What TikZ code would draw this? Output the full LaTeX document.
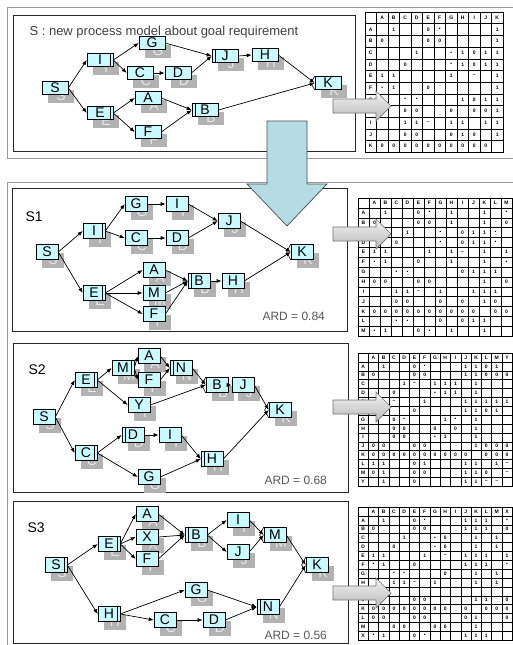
\documentclass[tikz,border=0pt]{standalone}
\usepackage{fontspec}
\setmainfont{Liberation Sans}
\setsansfont{Liberation Sans}
\usetikzlibrary{arrows.meta,calc}
\definecolor{taskcyan}{HTML}{C8FAFF}
\definecolor{shadegray}{HTML}{B2B2B2}
\definecolor{downblue}{HTML}{B5DCE2}
\definecolor{framegray}{HTML}{9A9A9A}

% adjacency matrix: name, left, top, cell width, cell height, cells per side, rows
\newcommand\adjmatrix[7]{%
  \foreach \k in {0,...,#6}{
    \draw[gridline] ({#2+\k*#4},#3) -- ({#2+\k*#4},{#3+#6*#5});
    \draw[gridline] (#2,{#3+\k*#5}) -- ({#2+#6*#4},{#3+\k*#5});
  }
  \draw[gridframe] (#2,#3) rectangle ({#2+#6*#4},{#3+#6*#5});
  \foreach \row [count=\i from 0] in {#7}{
    \foreach \cell [count=\j from 0] in \row{
      \if.\cell\else
        \node[cellmark] (#1-\i-\j) at ({#2+(\j+0.5)*#4},{#3+(\i+0.5)*#5}) {\cell};
      \fi
    }
  }%
}

\begin{document}
\begin{tikzpicture}[x=1pt,y=-1pt,
    frame/.style={draw=framegray, line width=0.9pt},
    panel/.style={draw=black!85, line width=0.8pt, fill=white},
    tasksize/.style={minimum width=22pt, minimum height=15pt, inner sep=0pt},
    task/.style={tasksize, draw=black, line width=0.6pt, fill=taskcyan, font=\fontsize{14}{14}\selectfont},
    shadowbox/.style={tasksize, fill=shadegray, text=white!70!shadegray, font=\fontsize{14}{14}\selectfont, xshift=6pt, yshift=-8pt},
    plain/.style={},
    barR/.style={path picture={\draw[line width=0.6pt] ([xshift=-3pt]path picture bounding box.north east) -- ([xshift=-3pt]path picture bounding box.south east);}},
    barL/.style={path picture={\draw[line width=0.6pt] ([xshift=3pt]path picture bounding box.north west) -- ([xshift=3pt]path picture bounding box.south west);}},
    wedgeline/.style={draw=black, line width=0.6pt},
    wedgeL/.style={append after command={(\tikzlastnode.north west) edge[wedgeline] ([xshift=-4pt]\tikzlastnode.west) ([xshift=-4pt]\tikzlastnode.west) edge[wedgeline] (\tikzlastnode.south west)}},
    flow/.style={-{Latex[length=5pt,width=4pt]}, line width=0.7pt},
    grayarrow/.style={draw=black!55, line width=0.7pt, top color=gray!10, bottom color=gray!55},
    bigarrow/.style={draw=black!70, line width=0.7pt, fill=downblue},
    gridline/.style={line width=0.35pt},
    gridframe/.style={line width=0.7pt},
    cellmark/.style={inner sep=0pt, font=\fontsize{5}{5}\selectfont\bfseries},
    ard/.style={anchor=west, text=black!65, font=\fontsize{12}{12}\selectfont},
    caption/.style={anchor=west, font=\fontsize{14}{14}\selectfont}
]
\useasboundingbox (0,0) rectangle (513,645);
\fill[white] (0,0) rectangle (513,645);

% frames
\draw[frame] (7,7) rectangle (530,158);
\draw[frame] (7,182) rectangle (530,670);
\draw[panel] (13,15) rectangle (355,151);
\draw[panel] (12,188) rectangle (347,331);
\draw[panel] (13,343) rectangle (348,492);
\draw[panel] (13,501) rectangle (348,643);

% S : new model
\node[anchor=west, text=black!75, font=\fontsize{13}{13}\selectfont] (title) at (26,32) {S : new process model about goal requirement};
\begin{scope}[tasksize/.append style={minimum width=26pt, minimum height=13pt}]
\foreach \id/\x/\y/\deco in {S/55/88/plain, I/100/60/barR, G/152/43/plain, C/140/73/plain,
    D/178/73/plain, J/225/56/barL, H/265/55/plain, K/328/83/wedgeL, E/100/113/barR,
    A/148/98/plain, F/148/132/plain, B/205/110/barL}{
  \node[shadowbox] (t-\id-sh) at (\x,\y) {\id};
  \node[task,\deco] (t-\id) at (\x,\y) {\id};
}
\end{scope}
\foreach \a/\b in {S/I, S/E, I/G, I/C, G/J, C/D, D/J, J/H, H/K, E/A, E/F, A/B, F/B, B/K}
  \draw[flow] (t-\a.east) -- (t-\b.west);

% S1
\node[caption] (s1) at (22,217) {S1};
\foreach \id/\lab/\x/\y/\deco in {S/S/47/252/plain, I/I/94/231/barR, G/G/136/204/plain,
    L/I/177/204/plain, C/C/136/238/plain, D/D/177/238/plain, J/J/229/221/plain,
    K/K/302/252/wedgeL, E/E/94/293/barR, A/A/154/270/plain, M/M/154/293/plain,
    F/F/154/314/plain, B/B/199/281/barL, H/H/233/281/plain}{
  \node[shadowbox] (p-\id-sh) at (\x,\y) {\lab};
  \node[task,\deco] (p-\id) at (\x,\y) {\lab};
}
\foreach \a/\b in {S/I, S/E, I/G, I/C, G/L, C/D, L/J, D/J, J/K, E/A, E/M, E/F, A/B, M/B, F/B, B/H, H/K}
  \draw[flow] (p-\a.east) -- (p-\b.west);
\node[ard] (ard1) at (259,316) {ARD = 0.84};

% S2
\node[caption] (s2) at (25,370) {S2};
\foreach \id/\x/\y/\deco in {S/44/417/plain, E/86/380/barR, M/123/368/barR, A/149/356/plain,
    F/149/380/plain, N/181/368/barL, Y/139/405/plain, B/217/385/wedgeL, J/243/385/plain,
    K/280/410/wedgeL, C/86/453/barR, D/133/435/barL, I/170/435/plain, H/212/459/barL,
    G/149/477/plain}{
  \node[shadowbox] (q-\id-sh) at (\x,\y) {\id};
  \node[task,\deco] (q-\id) at (\x,\y) {\id};
}
\foreach \a/\b in {S/E, S/C, E/M, E/Y, M/A, M/F, A/N, F/N, N/B, Y/B, B/J, J/K, C/D, C/G, D/I, I/H, G/H, H/K}
  \draw[flow] (q-\a.east) -- (q-\b.west);
\node[ard] (ard2) at (261,480) {ARD = 0.68};

% S3
\node[caption] (s3) at (24,528) {S3};
\foreach \id/\x/\y/\deco in {S/56/565/barR, E/109/544/barR, A/147/514/plain, X/147/537/plain,
    F/147/559/plain, B/196/535/barL, I/238/520/plain, J/238/552/plain, M/275/535/wedgeL,
    K/317/565/wedgeL, H/109/614/barR, G/196/590/plain, C/165/620/plain, D/214/620/plain,
    N/268/607/barL}{
  \node[shadowbox] (r-\id-sh) at (\x,\y) {\id};
  \node[task,\deco] (r-\id) at (\x,\y) {\id};
}
\foreach \a/\b in {S/E, S/H, E/A, E/X, E/F, A/B, X/B, F/B, B/I, B/J, I/M, J/M, M/K, H/G, H/C, C/D, G/N, D/N, N/K}
  \draw[flow] (r-\a.east) -- (r-\b.west);
\node[ard] (ard3) at (261,635) {ARD = 0.56};

% matrices
\adjmatrix{m0}{365}{12}{11.5}{11.67}{12}{
  {.,A,B,C,D,E,F,G,H,I,J,K},
  {A,.,1,.,.,0,•,.,.,.,.,1},
  {B,0,.,.,.,0,0,.,.,.,.,1},
  {C,.,.,.,1,.,.,•,1,0,1,1},
  {D,.,.,0,.,.,.,•,1,0,1,1},
  {E,1,1,.,.,.,.,1,.,–,.,1},
  {F,•,1,.,.,0,.,.,.,.,.,1},
  {G,.,.,•,•,.,.,.,1,0,1,1},
  {H,.,.,0,0,.,.,0,.,0,0,1},
  {I,.,.,1,1,–,.,1,1,.,1,1},
  {J,.,.,0,0,.,.,0,1,0,.,1},
  {K,0,0,0,0,0,0,0,0,0,0,.}}
\adjmatrix{m1}{358}{198}{11}{9.86}{14}{
  {.,A,B,C,D,E,F,G,H,I,J,K,L,M},
  {A,.,1,.,.,0,•,.,1,.,.,1,.,•},
  {B,0,.,.,.,0,0,.,1,.,.,1,.,0},
  {C,.,.,.,1,.,.,•,.,0,1,1,•,.},
  {D,.,.,0,.,.,.,•,.,0,1,1,•,.},
  {E,1,1,.,.,.,1,.,1,–,.,1,.,1},
  {F,•,1,.,.,0,.,.,1,.,.,1,.,•},
  {G,.,.,•,•,.,.,.,.,0,1,1,1,.},
  {H,0,0,.,.,0,0,.,.,.,.,1,.,0},
  {I,.,.,1,1,–,.,1,.,.,1,1,1,.},
  {J,.,.,0,0,.,.,0,.,0,.,1,0,.},
  {K,0,0,0,0,0,0,0,0,0,0,.,0,0},
  {L,.,.,•,•,.,.,0,.,0,1,1,.,.},
  {M,•,1,.,.,0,•,.,1,.,.,1,.,.}}
\adjmatrix{m2}{358}{353}{10.27}{8.87}{15}{
  {.,A,B,C,D,E,F,G,H,I,J,K,L,M,Y},
  {A,.,1,.,.,0,•,.,.,.,1,1,0,1,.},
  {B,0,.,.,.,0,0,.,.,.,1,1,0,0,0},
  {C,.,.,.,1,–,.,1,1,1,.,1,.,.,.},
  {D,.,.,0,.,.,.,•,1,1,.,1,.,.,.},
  {E,.,.,–,.,.,1,.,.,.,1,1,1,1,1},
  {F,.,.,.,.,0,.,.,.,.,1,1,0,1,.},
  {G,.,.,0,•,.,.,.,1,•,.,1,.,.,.},
  {H,.,.,0,0,.,.,0,.,0,.,1,.,.,.},
  {I,.,.,0,0,.,.,•,1,.,.,1,.,.,.},
  {J,0,0,.,.,0,0,.,.,.,.,1,0,0,0},
  {K,0,0,0,0,0,0,0,0,0,0,.,0,0,0},
  {L,1,1,.,.,0,1,.,.,.,1,1,.,1,–},
  {M,0,1,.,.,0,0,.,.,.,1,1,0,.,–},
  {Y,.,1,.,.,0,.,.,.,.,1,1,–,–,.}}
\adjmatrix{m3}{358}{507}{10.27}{8.87}{15}{
  {.,A,B,C,D,E,F,G,H,I,J,K,L,M,X},
  {A,.,1,.,.,0,•,.,.,.,1,1,1,.,•},
  {B,0,.,.,.,0,0,.,.,.,1,1,1,.,0},
  {C,.,.,.,1,.,.,•,0,.,.,1,.,1,.},
  {D,.,.,0,.,.,.,•,0,.,.,1,.,1,.},
  {E,1,1,.,.,.,1,.,–,.,1,1,1,.,1},
  {F,•,1,.,.,0,.,.,.,.,1,1,1,.,•},
  {G,.,.,•,•,.,.,.,0,.,.,1,.,1,.},
  {H,.,.,1,1,–,.,1,.,.,.,1,.,1,.},
  {I,.,.,.,.,.,.,.,.,.,.,.,.,.,.},
  {J,.,.,.,.,0,0,.,.,.,.,1,1,.,0},
  {K,0,0,0,0,0,0,0,0,.,0,.,0,0,0},
  {L,0,0,.,.,0,0,.,.,.,0,1,.,.,0},
  {M,.,.,0,0,.,.,0,0,.,.,1,.,.,.},
  {X,•,1,.,.,0,•,.,.,.,1,1,1,.,.}}

% arrows to the matrices
\foreach \ay in {106,234,407,593}
  \draw[grayarrow] (333,\ay-7) -- (376,\ay-7) -- (376,\ay-15) -- (391,\ay)
    -- (376,\ay+15) -- (376,\ay+7) -- (333,\ay+7) -- cycle;

% down arrow
\draw[bigarrow] (267,121) -- (307,121) -- (307,184) -- (327,184) -- (287,226)
  -- (247,184) -- (267,184) -- cycle;
\end{tikzpicture}
\end{document}
